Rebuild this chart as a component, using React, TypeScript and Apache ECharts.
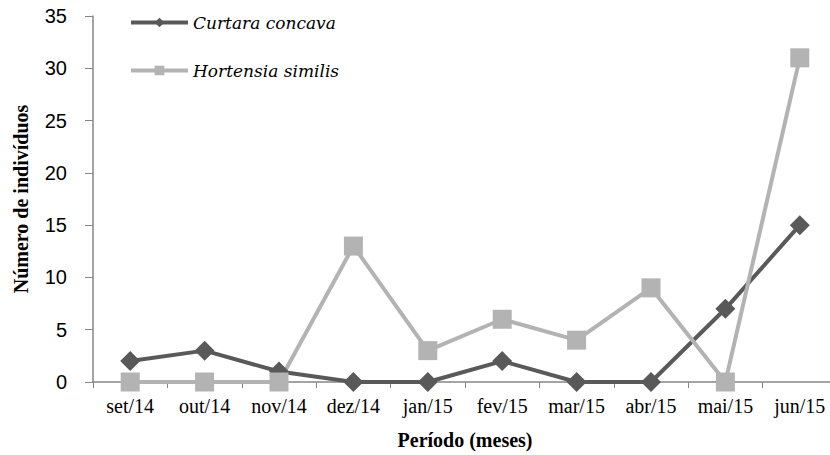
import React, { useEffect, useRef } from "react";
import * as echarts from "echarts";

const categories = ["set/14", "out/14", "nov/14", "dez/14", "jan/15", "fev/15", "mar/15", "abr/15", "mai/15", "jun/15"];
const curtara = [2, 3, 1, 0, 0, 2, 0, 0, 7, 15];
const hortensia = [0, 0, 0, 13, 3, 6, 4, 9, 0, 31];

export default function App() {
  const ref = useRef<HTMLDivElement>(null);
  useEffect(() => {
    const chart = echarts.init(ref.current!, null, { renderer: "svg" });
    const serif = "'Liberation Serif', 'Times New Roman', serif";
    chart.setOption({
      animation: false,
      backgroundColor: "#ffffff",
      grid: { left: 93, right: 0, top: 16, bottom: 73, containLabel: false },
      legend: {
        orient: "vertical",
        left: 124,
        top: 9,
        itemWidth: 57,
        itemHeight: 12,
        itemGap: 31,
        lineStyle: { width: 4 },
        textStyle: { fontFamily: "'DejaVu Serif', serif", fontStyle: "italic", fontSize: 17, color: "#000" },
        data: ["Curtara concava", "Hortensia similis"],
      },
      xAxis: {
        type: "category",
        data: categories,
        boundaryGap: true,
        name: "Período (meses)",
        nameLocation: "middle",
        nameGap: 48,
        nameTextStyle: { fontFamily: serif, fontWeight: "bold", fontSize: 20, color: "#000" },
        axisLine: { lineStyle: { color: "#868686", width: 1.5 } },
        axisTick: { show: true, length: 6, inside: false, lineStyle: { color: "#868686" } },
        axisLabel: { fontFamily: serif, fontSize: 20, color: "#000", margin: 14 },
        splitLine: { show: false },
      },
      yAxis: {
        type: "value",
        min: 0,
        max: 35,
        interval: 5,
        name: "Número de indivíduos",
        nameLocation: "middle",
        nameGap: 62,
        nameTextStyle: { fontFamily: serif, fontWeight: "bold", fontSize: 20, color: "#000" },
        axisLine: { show: true, lineStyle: { color: "#868686", width: 1.5 } },
        axisTick: { show: true, length: 8, lineStyle: { color: "#868686" } },
        axisLabel: { fontFamily: "'Liberation Sans', Arial, sans-serif", fontSize: 20, color: "#000", margin: 26 },
        splitLine: { show: false },
      },
      series: [
        {
          name: "Curtara concava",
          type: "line",
          data: curtara,
          symbol: "diamond",
          symbolSize: 20,
          lineStyle: { color: "#595959", width: 4 },
          itemStyle: { color: "#595959" },
        },
        {
          name: "Hortensia similis",
          type: "line",
          data: hortensia,
          symbol: "rect",
          symbolSize: 19,
          lineStyle: { color: "#b3b3b3", width: 4 },
          itemStyle: { color: "#b3b3b3" },
        },
      ],
    });
    return () => chart.dispose();
  }, []);
  return (
    <div style={{ position: "fixed", left: 0, top: 0, width: 830, height: 455, overflow: "hidden" }}>
      <div ref={ref} style={{ width: 837, height: 455 }} />
    </div>
  );
}
